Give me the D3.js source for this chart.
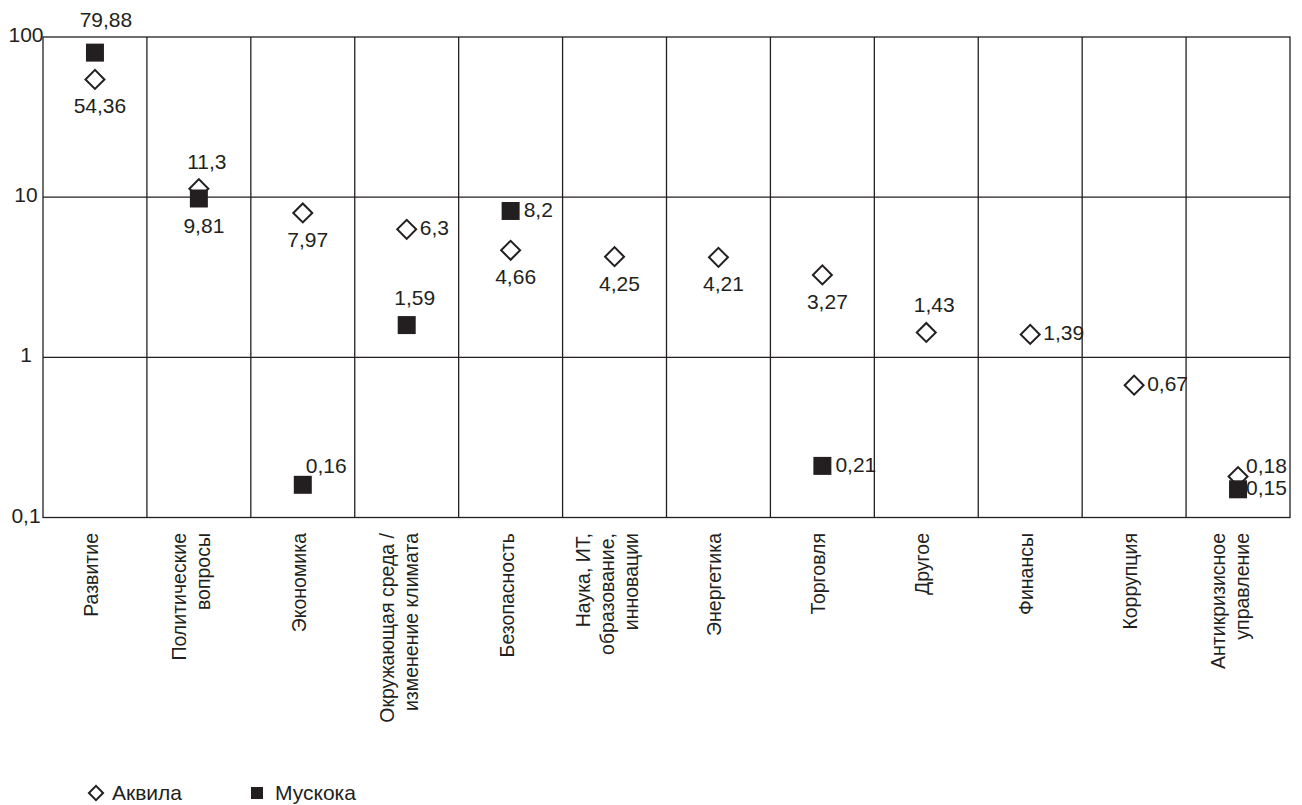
<!DOCTYPE html>
<html>
<head>
<meta charset="utf-8">
<script src="https://cdn.jsdelivr.net/npm/d3@7"></script>
<style>
  body { margin: 0; background: #fff; }
  svg text { font-family: "Liberation Sans", Arial, Helvetica, sans-serif; fill: #231f20; }
</style>
</head>
<body>
<svg id="chart" width="1302" height="805"></svg>
<script>
// DATA
const categories = [
  ["Развитие"],
  ["Политические", "вопросы"],
  ["Экономика"],
  ["Окружающая среда /", "изменение климата"],
  ["Безопасность"],
  ["Наука, ИТ,", "образование,", "инновации"],
  ["Энергетика"],
  ["Торговля"],
  ["Другое"],
  ["Финансы"],
  ["Коррупция"],
  ["Антикризисное", "управление"]
];
const aquila  = [54.36, 11.3, 7.97, 6.3, 4.66, 4.25, 4.21, 3.27, 1.43, 1.39, 0.67, 0.18];
const muskoka = [79.88, 9.81, 0.16, 1.59, 8.2, null, null, 0.21, null, null, null, 0.15];
const yTicks  = [0.1, 1, 10, 100];
const seriesNames = ["Аквила", "Мускока"];

// where each value label sits round its marker
const aquilaLabelPos  = ["b", "t", "b", "r", "b", "b", "b", "b", "t", "r", "r", "ru"];
const muskokaLabelPos = ["T", "b", "rt", "t", "r", null, null, "r", null, null, null, "rd"];

const labelOffsets = {
  t:  { dx: 8,  dy: -20, anchor: "middle" },
  T:  { dx: 11, dy: -26, anchor: "middle" },
  b:  { dx: 5,  dy: 34,  anchor: "middle" },
  r:  { dx: 13, dy: 6,   anchor: "start" },
  rt: { dx: 3,  dy: -12, anchor: "start" },
  ru: { dx: 8,  dy: -4,  anchor: "start" },
  rd: { dx: 8,  dy: 6,   anchor: "start" }
};

const ink = "#231f20";
const svg = d3.select("#chart");
const plot = { left: 43, right: 1290, top: 37, bottom: 517.5 };

const x = d3.scaleBand()
  .domain(d3.range(categories.length))
  .range([plot.left, plot.right])
  .padding(0);
const y = d3.scaleLog()
  .domain([0.1, 100])
  .range([plot.bottom, plot.top]);

const fmt = v => String(v).replace(".", ",");
const cx = i => x(i) + x.bandwidth() / 2;

// grid
const grid = svg.append("g")
  .attr("stroke", ink)
  .attr("stroke-width", 1.3)
  .attr("fill", "none");

grid.append("rect")
  .attr("x", plot.left).attr("y", plot.top)
  .attr("width", plot.right - plot.left)
  .attr("height", plot.bottom - plot.top);

grid.selectAll("line.h")
  .data(yTicks.slice(1, -1))
  .enter().append("line")
    .attr("class", "h")
    .attr("x1", plot.left).attr("x2", plot.right)
    .attr("y1", d => y(d)).attr("y2", d => y(d));

grid.selectAll("line.v")
  .data(d3.range(1, categories.length))
  .enter().append("line")
    .attr("class", "v")
    .attr("x1", d => x(d)).attr("x2", d => x(d))
    .attr("y1", plot.top).attr("y2", plot.bottom);

// y tick labels
svg.append("g").selectAll("text")
  .data(yTicks)
  .enter().append("text")
    .attr("x", 26)
    .attr("y", d => y(d) + 5)
    .attr("text-anchor", "middle")
    .style("font-size", "21px")
    .text(d => fmt(d));

// category labels
const cats = svg.append("g").selectAll("g")
  .data(categories)
  .enter().append("g");

cats.each(function(lines, i) {
  const n = lines.length;
  d3.select(this).selectAll("text")
    .data(lines)
    .enter().append("text")
      .attr("transform", (d, j) => {
        const bx = n === 1 ? cx(i) + 3 : cx(i) - 1 + (j - (n - 1) / 2) * 24;
        return `translate(${bx},533)rotate(-90)`;
      })
      .attr("text-anchor", "end")
      .style("font-size", "19.5px")
      .text(d => d);
});

// markers
const diamond = d3.symbol().type(d3.symbolSquare).size(180);
const square  = d3.symbol().type(d3.symbolSquare).size(324);

const aq = aquila.map((v, i) => ({ i, v, pos: aquilaLabelPos[i] })).filter(d => d.v != null);
const mu = muskoka.map((v, i) => ({ i, v, pos: muskokaLabelPos[i] })).filter(d => d.v != null);

svg.append("g").selectAll("path")
  .data(aq)
  .enter().append("path")
    .attr("d", diamond)
    .attr("transform", d => `translate(${cx(d.i)},${y(d.v)})rotate(45)`)
    .attr("fill", "#fff")
    .attr("stroke", ink)
    .attr("stroke-width", 2);

svg.append("g").selectAll("path")
  .data(mu)
  .enter().append("path")
    .attr("d", square)
    .attr("transform", d => `translate(${cx(d.i)},${y(d.v)})`)
    .attr("fill", ink);

// value labels
svg.append("g").selectAll("text")
  .data(aq.concat(mu))
  .enter().append("text")
    .attr("x", d => cx(d.i) + labelOffsets[d.pos].dx)
    .attr("y", d => y(d.v) + labelOffsets[d.pos].dy)
    .attr("text-anchor", d => labelOffsets[d.pos].anchor)
    .style("font-size", "21px")
    .text(d => fmt(d.v));

// legend
const legend = svg.append("g");
legend.append("path")
  .attr("d", d3.symbol().type(d3.symbolSquare).size(100))
  .attr("transform", "translate(96,793)rotate(45)")
  .attr("fill", "#fff")
  .attr("stroke", ink)
  .attr("stroke-width", 2);
legend.append("text")
  .attr("x", 112).attr("y", 800)
  .style("font-size", "21px")
  .text(seriesNames[0]);
legend.append("path")
  .attr("d", d3.symbol().type(d3.symbolSquare).size(144))
  .attr("transform", "translate(257,793)")
  .attr("fill", ink);
legend.append("text")
  .attr("x", 275).attr("y", 800)
  .style("font-size", "21px")
  .text(seriesNames[1]);
</script>
</body>
</html>
